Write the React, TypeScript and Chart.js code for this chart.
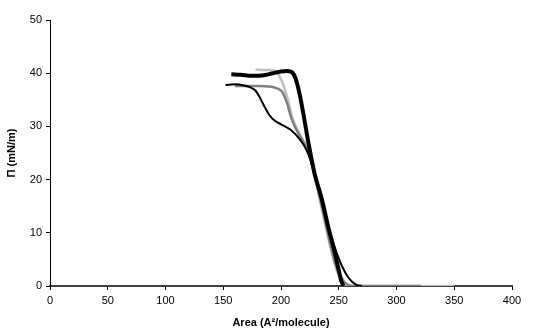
import React, { useEffect, useRef } from "react";
import { Chart, registerables } from "chart.js";

Chart.register(...registerables);

const xTicks = [0, 50, 100, 150, 200, 250, 300, 350, 400];
const yTicks = [0, 10, 20, 30, 40, 50];

// isotherm 1 (thick black)
const areaThick = [157, 165, 175, 185, 193, 200, 205, 208.5, 211, 213.5, 216, 219, 224, 229, 235.5, 241, 246, 250, 252, 254];
const piThick = [39.8, 39.7, 39.5, 39.6, 40.0, 40.3, 40.4, 40.3, 39.8, 38.4, 36.2, 32.8, 26.6, 21.2, 16.2, 11, 6.8, 3, 1.1, 0];

// isotherm 2 (thin black)
const areaThin = [152, 160, 168, 174, 178, 182, 186, 190, 195, 200, 208, 216.5, 222, 226, 230, 234, 238, 242, 246, 250, 254, 258, 262, 266, 270];
const piThin = [37.8, 37.9, 37.7, 37.3, 36.7, 35.3, 33.6, 32.1, 31.0, 30.4, 29.4, 27.5, 25.6, 23.4, 20.3, 17, 13.6, 10.4, 7.6, 5.2, 3.2, 1.7, 0.7, 0.15, 0];

// isotherm 3 (dark grey)
const areaGrey = [160, 170, 180, 190, 196, 201, 205, 209, 213, 217, 222, 226, 230, 234, 238, 242, 246, 250, 254, 258, 262, 321];
const piGrey = [37.6, 37.6, 37.6, 37.5, 37.2, 36.5, 34.5, 31.5, 29.5, 28, 26, 23.5, 20, 16.2, 12.5, 8.5, 5, 2.5, 1, 0.2, 0, 0];

// isotherm 4 (light grey)
const areaLight = [178, 185, 192, 196, 199, 202, 206, 210, 216.5, 222, 226, 230, 234, 238, 242, 246, 250, 254, 258, 350];
const piLight = [40.7, 40.6, 40.6, 40.3, 39.3, 37.8, 35, 31.6, 28.4, 26.3, 23.5, 20, 15.8, 11.8, 8, 4.5, 2, 0.6, 0, 0];

const toPts = (xs: number[], ys: number[]) => xs.map((x, i) => ({ x, y: ys[i] }));

export default function App() {
  const ref = useRef<HTMLCanvasElement | null>(null);
  useEffect(() => {
    if (!ref.current) return;
    const font = { family: "'Liberation Sans', Arial, sans-serif", size: 11 };
    const chart = new Chart(ref.current, {
      type: "scatter",
      data: {
        datasets: [
          { data: toPts(areaThick, piThick), borderColor: "#000000", borderWidth: 4, order: 1 },
          { data: toPts(areaThin, piThin), borderColor: "#000000", borderWidth: 2, order: 2 },
          { data: toPts(areaGrey, piGrey), borderColor: "#808080", borderWidth: 2.5, order: 3 },
          { data: toPts(areaLight, piLight), borderColor: "#c0c0c0", borderWidth: 2.5, order: 4 },
        ].map((d) => ({
          ...d,
          showLine: true,
          pointRadius: 0,
          pointHoverRadius: 0,
          cubicInterpolationMode: "monotone" as const,
          fill: false,
        })),
      },
      options: {
        animation: false,
        responsive: false,
        layout: { padding: { top: 20, right: 28, left: 0, bottom: 0 } },
        plugins: { legend: { display: false }, tooltip: { enabled: false } },
        scales: {
          x: {
            type: "linear",
            min: 0,
            max: 400,
            afterBuildTicks: (s: any) => { s.ticks = xTicks.map((v) => ({ value: v })); },
            afterFit: (s: any) => { s.height = 48; },
            grid: { drawOnChartArea: false, drawTicks: true, tickLength: 4, color: "#000" },
            border: { color: "#404040", width: 2 },
            ticks: { font, color: "#000", padding: 4, maxRotation: 0 },
            title: {
              display: true,
              text: "Area (A²/molecule)",
              font: { ...font, weight: "bold" },
              color: "#000",
              padding: { top: 0, bottom: 4 },
            },
          },
          y: {
            type: "linear",
            min: 0,
            max: 50,
            afterBuildTicks: (s: any) => { s.ticks = yTicks.map((v) => ({ value: v })); },
            afterFit: (s: any) => { s.width = 50; },
            grid: { drawOnChartArea: false, drawTicks: true, tickLength: 4, color: "#000" },
            border: { color: "#000", width: 1 },
            ticks: { font, color: "#000", padding: 4 },
            title: {
              display: true,
              text: "Π (mN/m)",
              font: { ...font, weight: "bold" },
              color: "#000",
              padding: { top: 5, bottom: 0 },
            },
          },
        },
      },
    });
    return () => chart.destroy();
  }, []);
  return (
    <div style={{ position: "absolute", left: 0, top: 0, width: 540, height: 334, background: "#fff" }}>
      <canvas ref={ref} width={540} height={334} style={{ display: "block" }} />
    </div>
  );
}
